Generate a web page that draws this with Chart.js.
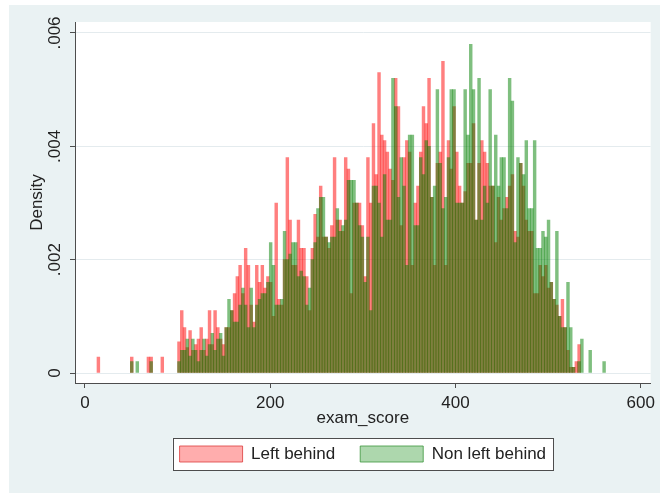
<!DOCTYPE html>
<html>
<head>
<meta charset="utf-8">
<title>exam_score histogram</title>
<script src="https://cdn.jsdelivr.net/npm/chart.js@4/dist/chart.umd.min.js"></script>
<style>
	html, body { margin: 0; padding: 0; background: #ffffff; }
	#wrap { width: 660px; height: 493px; }
</style>
</head>
<body>
<div id="wrap"><canvas id="mycanvas" width="660" height="493"></canvas></div>
<script>
// histogram bins: width 3, first bin starts at 13
var binStart = 13;
var binWidth = 3;
var xTicks = [0, 200, 400, 600];
var yTicks = [0, 0.002, 0.004, 0.006];

// density per bin
var leftBehind = [
	.00028,0,0,0,0,0,0,0,0,0,
	0,0,.00028,0,0,0,0,0,.00028,.00028,
	0,0,0,.00028,0,0,0,0,0,.00055,
	.0011,.0008,.00045,.00075,.0004,.0005,.0006,.0008,.0004,.0006,
	.0011,.0005,.0011,.0008,.0006,.0005,.0008,.0008,.0011,.0014,
	.0017,.0019,.0014,.0022,.0019,.0012,.0009,.0019,.0016,.0019,
	.0015,.0017,.0016,.0010,.0030,.0013,.0012,.0020,.0038,.0027,
	.0019,.0019,.0027,.0022,.0022,.0017,.0011,.0022,.0028,.0024,
	.0033,.0024,.0024,.0022,.0026,.0038,.0027,.0027,.0025,.0038,
	.0036,.0014,.0030,.0030,.0030,.0026,.0017,.0038,.0030,.0044,
	.0035,.0053,.0042,.0041,.0039,.0036,.0034,.0052,.0047,.0026,
	.0038,.0041,.0039,.0019,.0030,.0033,.0039,.0047,.0044,.0052,
	.0031,.0019,.0037,.0039,.0055,.0019,.0041,.0036,.0047,.0039,
	.0033,.0030,.0032,.0037,.0037,.0044,.0027,.0037,.0041,.0039,
	.0037,.0033,.0033,.0023,.0031,.0027,.0029,.0031,.0033,.0035,
	.0025,.0024,.0037,.0033,.0027,.0025,.0025,.0014,.0014,.0019,
	.0017,.0019,.0015,.0016,.0013,.0012,.0010,.0013,.0008,.0004,
	.0001,.0001,.0002,.0005,0,0,0,0,0,0,
	0,0,0
];
var nonLeftBehind = [
	0,0,0,0,0,0,0,0,0,0,
	0,0,.0002,0,.0002,0,0,0,0,.0002,
	0,0,0,0,0,0,0,0,0,.0002,
	.0004,.0004,.0006,.0003,.0006,.0004,.0002,.0004,.0006,.0003,
	.0005,.0007,.0004,.0006,.0007,.0003,.0008,.0013,.0011,.0009,
	.0009,.0012,.0015,.0012,.0008,.0015,.0008,.0012,.0013,.0014,
	.0014,.0016,.0023,.0019,.0012,.0012,.0013,.0025,.0020,.0021,
	.0023,.0023,.0017,.0018,.0017,.0012,.0015,.0020,.0023,.0029,
	.0031,.0031,.0024,.0023,.0024,.0024,.0029,.0025,.0026,.0027,
	.0034,.0034,.0034,.0030,.0026,.0024,.0016,.0024,.0011,.0033,
	.0033,.0030,.0024,.0035,.0027,.0027,.0052,.0047,.0031,.0038,
	.0033,.0019,.0042,.0042,.0026,.0026,.0038,.0035,.0041,.0040,
	.0031,.0033,.0050,.0037,.0029,.0031,.0038,.0050,.0050,.0030,
	.0030,.0030,.0050,.0042,.0058,.0050,.0027,.0052,.0027,.0033,
	.0030,.0050,.0033,.0042,.0033,.0038,.0038,.0029,.0052,.0048,
	.0023,.0038,.0037,.0035,.0041,.0029,.0029,.0041,.0022,.0022,
	.0025,.0024,.0027,.0016,.0013,.0025,.0010,.0008,.0008,.0016,
	.0008,.0001,0,.0002,.0006,0,0,.0004,0,0,
	0,0,.0002
];

var textColor = '#222222';
var axisColor = '#4d4d4d';
var fontFamily = '"Liberation Sans", Arial, sans-serif';

// empty bins are left out so no hairline is drawn on the zero line
function toPoints(values){
	var pts = [];
	for(var i in values){
		pts.push({x: binStart + binWidth * (Number(i) + 0.5), y: values[i] === 0 ? null : values[i]});
	}
	return pts;
}

var stataBackground = {
	id: 'stataBackground',
	beforeDraw: function(chart){
		var ctx = chart.ctx;
		var area = chart.chartArea;
		ctx.save();
		ctx.fillStyle = '#ffffff';
		ctx.fillRect(0, 0, chart.width, chart.height);
		ctx.fillStyle = '#eaf2f3';
		ctx.fillRect(9, 5, chart.width - 9, chart.height - 5);
		ctx.fillStyle = '#ffffff';
		ctx.fillRect(area.left, area.top, area.right - area.left, area.bottom - area.top);

		// frame round the legend
		var boxes = chart.legend && chart.legend.legendHitBoxes;
		if(boxes && boxes.length){
			var first = boxes[0], last = boxes[boxes.length - 1];
			var x0 = first.left - 7, x1 = last.left + last.width + 7;
			var y0 = first.top - 7.5, y1 = first.top + first.height + 7.5;
			ctx.fillStyle = '#ffffff';
			ctx.fillRect(x0, y0, x1 - x0, y1 - y0);
			ctx.strokeStyle = axisColor;
			ctx.lineWidth = 1;
			ctx.strokeRect(Math.round(x0) + 0.5, Math.round(y0) + 0.5, Math.round(x1 - x0), Math.round(y1 - y0));
		}
		ctx.restore();
	}
};

var chartdata = {
	datasets: [
	{
		label: 'Left behind',
		data: toPoints(leftBehind),
		backgroundColor: 'rgba(255,0,0,0.5)',
		borderWidth: 0,
		order: 1
	},
	{
		label: 'Non left behind',
		data: toPoints(nonLeftBehind),
		backgroundColor: 'rgba(0,128,0,0.5)',
		borderWidth: 0,
		order: 0
	}
	]
};

var legendFill = ['rgba(255,60,60,0.42)', 'rgba(40,150,40,0.38)'];
var legendLine = ['rgba(220,60,60,0.8)', 'rgba(60,150,60,0.8)'];

var ctx = document.getElementById('mycanvas');
var HistGraph = new Chart(ctx, {
	type: 'bar',
	data: chartdata,
	plugins: [stataBackground],
	options: {
		responsive: false,
		animation: false,
		devicePixelRatio: 1,
		grouped: false,
		barPercentage: 1,
		categoryPercentage: 1,
		layout: { padding: { left: 9, top: 22, right: 7, bottom: 20.5 } },
		scales: {
			x: {
				type: 'linear',
				offset: false,
				min: -10.75,
				max: 610.75,
				afterBuildTicks: function(scale){
					scale.ticks = xTicks.map(function(v){ return {value: v}; });
				},
				afterFit: function(scale){ scale.height = 37.5; },
				grid: { offset: false, drawOnChartArea: false, drawTicks: true, tickLength: 5, tickColor: axisColor },
				border: { display: true, color: axisColor, width: 1 },
				ticks: {
					padding: 5,
					color: textColor,
					maxRotation: 0,
					font: { family: fontFamily, size: 17 }
				},
				title: {
					display: true,
					text: 'exam_score',
					color: textColor,
					padding: { top: 0, bottom: -8 },
					font: { family: fontFamily, size: 17 }
				}
			},
			y: {
				min: -0.000176,
				max: 0.006194,
				afterBuildTicks: function(scale){
					scale.ticks = yTicks.map(function(v){ return {value: v}; });
				},
				afterFit: function(scale){ scale.width = 66; },
				grid: { color: '#e4ebee', lineWidth: 1, drawTicks: true, tickLength: 5, tickColor: axisColor },
				border: { display: true, color: axisColor, width: 1 },
				ticks: {
					padding: -2,
					minRotation: 90,
					maxRotation: 90,
					crossAlign: 'center',
					color: textColor,
					font: { family: fontFamily, size: 17 },
					callback: function(v){
						return v === 0 ? '0' : String(v).replace('0.', '.');
					}
				},
				title: {
					display: true,
					text: 'Density',
					color: textColor,
					padding: { top: 18, bottom: 0 },
					font: { family: fontFamily, size: 17 }
				}
			}
		},
		plugins: {
			tooltip: { enabled: false },
			legend: {
				position: 'bottom',
				fullSize: false,
				labels: {
					boxWidth: 63,
					boxHeight: 16,
					padding: 25,
					color: textColor,
					font: { family: fontFamily, size: 17 },
					sort: function(a, b){ return a.datasetIndex - b.datasetIndex; },
					generateLabels: function(chart){
						var items = Chart.defaults.plugins.legend.labels.generateLabels(chart);
						items.forEach(function(it){
							it.fillStyle = legendFill[it.datasetIndex];
							it.strokeStyle = legendLine[it.datasetIndex];
							it.lineWidth = 1;
						});
						return items;
					}
				}
			}
		}
	}
});
</script>
</body>
</html>
